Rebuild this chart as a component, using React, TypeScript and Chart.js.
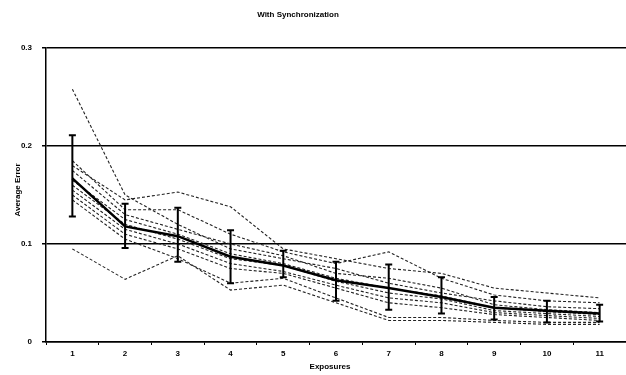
import React, { useEffect, useRef } from "react";
import { Chart, registerables } from "chart.js";

Chart.register(...registerables);

const categories = ["1", "2", "3", "4", "5", "6", "7", "8", "9", "10", "11"];
const yTickLabels: Record<string, string> = { "0": "0", "0.1": "0.1", "0.2": "0.2", "0.3": "0.3" };

const meanError = [0.167, 0.118, 0.108, 0.087, 0.078, 0.063, 0.055, 0.046, 0.035, 0.032, 0.029];
const errHigh = [0.211, 0.141, 0.137, 0.114, 0.093, 0.082, 0.079, 0.066, 0.046, 0.042, 0.038];
const errLow = [0.128, 0.096, 0.082, 0.060, 0.066, 0.042, 0.033, 0.029, 0.023, 0.020, 0.021];

const subject1 = [0.258, 0.150, 0.120, 0.095, 0.085, 0.075, 0.060, 0.050, 0.042, 0.036, 0.034];
const subject2 = [0.180, 0.145, 0.153, 0.138, 0.095, 0.085, 0.075, 0.070, 0.055, 0.050, 0.045];
const subject3 = [0.185, 0.135, 0.135, 0.110, 0.092, 0.080, 0.092, 0.065, 0.048, 0.042, 0.040];
const subject4 = [0.175, 0.130, 0.115, 0.100, 0.088, 0.070, 0.065, 0.055, 0.038, 0.033, 0.030];
const subject5 = [0.165, 0.125, 0.110, 0.090, 0.080, 0.065, 0.055, 0.047, 0.035, 0.031, 0.028];
const subject6 = [0.160, 0.120, 0.105, 0.085, 0.078, 0.062, 0.050, 0.044, 0.032, 0.029, 0.026];
const subject7 = [0.155, 0.115, 0.100, 0.080, 0.072, 0.058, 0.045, 0.040, 0.030, 0.027, 0.024];
const subject8 = [0.150, 0.110, 0.095, 0.075, 0.070, 0.055, 0.040, 0.035, 0.028, 0.025, 0.022];
const subject9 = [0.145, 0.105, 0.085, 0.060, 0.065, 0.045, 0.025, 0.025, 0.022, 0.020, 0.020];
const subject10 = [0.095, 0.064, 0.088, 0.053, 0.058, 0.040, 0.022, 0.022, 0.020, 0.018, 0.018];

const subjects = [subject1, subject2, subject3, subject4, subject5, subject6, subject7, subject8, subject9, subject10];

const FONT = "'Liberation Sans', Arial, sans-serif";

export default function App() {
  const ref = useRef<HTMLCanvasElement | null>(null);

  useEffect(() => {
    if (!ref.current) return;

    const errorBars = {
      id: "errorBars",
      afterDatasetsDraw(chart: any) {
        const ctx = chart.ctx;
        const xs = chart.scales.x;
        const ys = chart.scales.y;
        ctx.save();
        ctx.strokeStyle = "#000";
        ctx.lineWidth = 2;
        for (let i = 0; i < categories.length; i++) {
          const x = xs.getPixelForValue(i);
          const yt = ys.getPixelForValue(errHigh[i]);
          const yb = ys.getPixelForValue(errLow[i]);
          ctx.beginPath();
          ctx.moveTo(x, yt);
          ctx.lineTo(x, yb);
          ctx.moveTo(x - 3.5, yt);
          ctx.lineTo(x + 3.5, yt);
          ctx.moveTo(x - 3.5, yb);
          ctx.lineTo(x + 3.5, yb);
          ctx.stroke();
        }
        ctx.restore();
      },
    };

    const texts = {
      id: "texts",
      afterDraw(chart: any) {
        const ctx = chart.ctx;
        ctx.save();
        ctx.fillStyle = "#000";
        ctx.textAlign = "center";
        ctx.textBaseline = "middle";
        ctx.font = `bold 8px ${FONT}`;
        ctx.fillText("With Synchronization", 298, 15);
        ctx.fillText("Exposures", 330, 367);
        ctx.translate(18, 190);
        ctx.rotate(-Math.PI / 2);
        ctx.fillText("Average Error", 0, 0);
        ctx.restore();
      },
    };

    const datasets: any[] = [
      {
        label: "Mean",
        data: meanError,
        borderColor: "#000",
        borderWidth: 2.5,
        pointRadius: 0,
        tension: 0,
        order: 0,
      },
      ...subjects.map((s, i) => ({
        label: `Subject ${i + 1}`,
        data: s,
        borderColor: "#222",
        borderWidth: 1.1,
        borderDash: [3, 2],
        pointRadius: 0,
        tension: 0,
        order: 1,
      })),
    ];

    const chart = new Chart(ref.current, {
      type: "line",
      data: { labels: categories, datasets },
      plugins: [errorBars, texts],
      options: {
        animation: false,
        responsive: false,
        devicePixelRatio: 1,
        layout: { padding: { top: 48, right: 0, left: 0, bottom: 0 } },
        plugins: {
          legend: { display: false },
          title: { display: false },
          tooltip: { enabled: false },
        },
        scales: {
          x: {
            type: "category",
            offset: true,
            grid: {
              display: true,
              drawOnChartArea: false,
              drawTicks: true,
              tickLength: 3,
              color: "#000",
              offset: true,
            },
            border: { display: true, color: "#000", width: 1.5 },
            ticks: {
              color: "#000",
              font: { family: FONT, size: 8, weight: "bold" },
              padding: 4,
              maxRotation: 0,
              autoSkip: false,
            },
            afterFit: (scale: any) => {
              scale.height = 33;
            },
          },
          y: {
            min: 0,
            max: 0.3,
            grid: {
              color: "#000",
              lineWidth: 1.5,
              drawTicks: true,
              tickLength: 4,
            },
            border: { display: true, color: "#000", width: 1.5 },
            ticks: {
              stepSize: 0.1,
              color: "#000",
              padding: 10,
              font: { family: FONT, size: 8, weight: "bold" },
              callback: (v: any) => {
                const key = String(Math.round(Number(v) * 10) / 10);
                return yTickLabels[key] ?? key;
              },
            },
            afterFit: (scale: any) => {
              scale.width = 46;
            },
          },
        },
      } as any,
    });

    return () => chart.destroy();
  }, []);

  return (
    <div style={{ position: "absolute", left: 0, top: 0, width: 626, height: 375, background: "#fff" }}>
      <canvas ref={ref} width={626} height={375} style={{ display: "block" }} />
    </div>
  );
}
